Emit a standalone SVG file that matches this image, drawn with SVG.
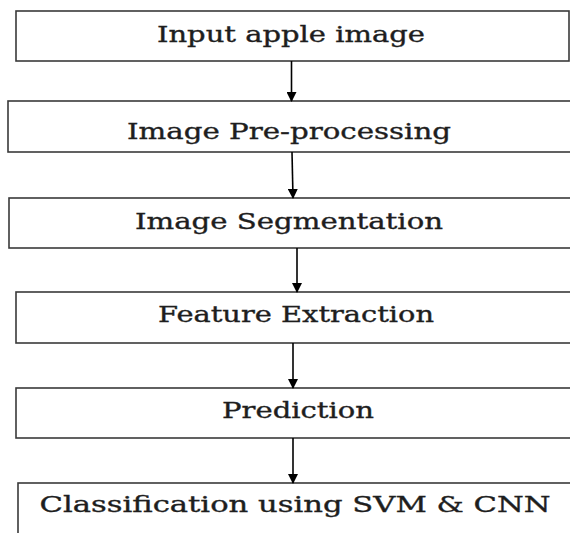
<svg xmlns="http://www.w3.org/2000/svg" width="570" height="533" viewBox="0 0 570 533">
<defs>
<marker id="ah" markerWidth="10" markerHeight="10" refX="9" refY="5" orient="auto" markerUnits="userSpaceOnUse">
<path d="M0,0 L10,5 L0,10 Z" fill="#000"/>
</marker>
<style>
.box{fill:#fff;stroke:#3a3a3a;stroke-width:1.6}
.lbl{font-family:"DejaVu Serif","Liberation Serif",serif;font-size:22px;fill:#1e1e1e;stroke:#1e1e1e;stroke-width:0.35;text-anchor:middle}
.con{stroke:#000;stroke-width:1.6;fill:none;marker-end:url(#ah)}
</style>
</defs>
<rect width="570" height="533" fill="#fff"/>
<g id="n1"><rect class="box" x="16" y="11" width="553" height="50"/><text class="lbl" x="291" y="42" textLength="268" lengthAdjust="spacingAndGlyphs">Input apple image</text></g>
<g id="n2"><rect class="box" x="8" y="101" width="570" height="51"/><text class="lbl" x="289" y="139" textLength="324" lengthAdjust="spacingAndGlyphs">Image Pre-processing</text></g>
<g id="n3"><rect class="box" x="9" y="198" width="570" height="50"/><text class="lbl" x="289" y="229" textLength="308" lengthAdjust="spacingAndGlyphs">Image Segmentation</text></g>
<g id="n4"><rect class="box" x="16" y="292" width="560" height="51"/><text class="lbl" x="296" y="322" textLength="276" lengthAdjust="spacingAndGlyphs">Feature Extraction</text></g>
<g id="n5"><rect class="box" x="16" y="388" width="560" height="50"/><text class="lbl" x="298" y="418" textLength="152" lengthAdjust="spacingAndGlyphs">Prediction</text></g>
<g id="n6"><rect class="box" x="18" y="483" width="560" height="60"/><text class="lbl" x="295" y="512" textLength="511" lengthAdjust="spacingAndGlyphs">Classification using SVM &amp; CNN</text></g>
<g id="connectors">
<line class="con" x1="291.5" y1="61" x2="291.5" y2="101"/>
<line class="con" x1="292" y1="152" x2="293" y2="198"/>
<line class="con" x1="297" y1="248" x2="297" y2="292"/>
<line class="con" x1="293" y1="343" x2="293" y2="388"/>
<line class="con" x1="293" y1="438" x2="293" y2="483"/>
</g>
</svg>
